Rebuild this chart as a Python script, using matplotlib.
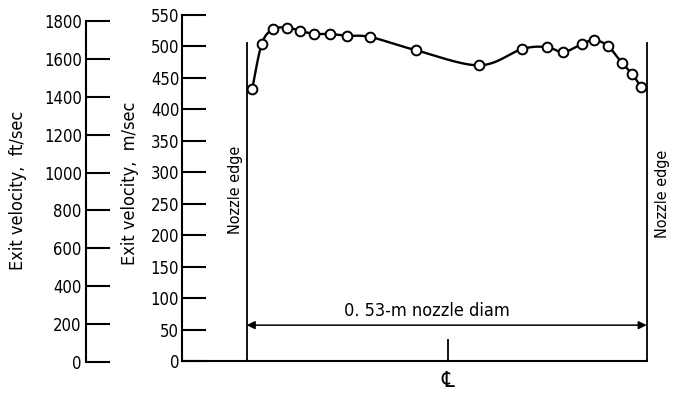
import numpy as np
import matplotlib
matplotlib.use('Agg')
import matplotlib.pyplot as plt

# radial position across the nozzle exit (m), centreline = 0
position = [-0.2576, -0.2451, -0.2306, -0.2112, -0.1944, -0.1758, -0.1546,
            -0.1321, -0.1012, -0.0407, 0.0432, 0.1002, 0.1329, 0.1545,
            0.1793, 0.1952, 0.2133, 0.2327, 0.2459, 0.2578]
# exit velocity (m/sec)
velocity = [433, 504, 527, 530, 525, 520, 520, 517, 515, 494, 470, 496,
            499, 491, 504, 510, 501, 473, 456, 435]

ms_ticks = list(range(0, 551, 50))
fts_ticks = list(range(0, 1801, 200))
nozzle_radius = 0.265

plt.rcParams['font.family'] = ['DejaVu Sans']
plt.rcParams['font.stretch'] = 'condensed'

W, H = 675, 395


def rect(l, t, r, b):
    return [l / W, 1 - b / H, (r - l) / W, (b - t) / H]


def catmull(xs, ys, n=30):
    # smooth curve through the measured points
    p = np.column_stack([xs, ys])
    p = np.vstack([p[0], p, p[-1]])
    out = []
    for i in range(1, len(p) - 2):
        p0, p1, p2, p3 = p[i - 1], p[i], p[i + 1], p[i + 2]
        t = np.linspace(0, 1, n)[:, None]
        seg = 0.5 * ((2 * p1) + (-p0 + p2) * t +
                     (2 * p0 - 5 * p1 + 4 * p2 - p3) * t ** 2 +
                     (-p0 + 3 * p1 - 3 * p2 + p3) * t ** 3)
        out.append(seg)
    out = np.vstack(out)
    return out[:, 0], out[:, 1]


fig = plt.figure(figsize=(6.75, 3.95), dpi=100)

# main axis in m/sec
ax = fig.add_axes(rect(182, 15, 646.7, 361))
ax.set_ylim(0, 550)
ax.set_xlim(nozzle_radius - 464.7 / 400 * 2 * nozzle_radius, nozzle_radius)
for s in ['top', 'right']:
    ax.spines[s].set_visible(False)
for s in ['left', 'bottom']:
    ax.spines[s].set_linewidth(1.5)
ax.set_yticks(ms_ticks)
ax.set_xticks([])
ax.tick_params(axis='y', direction='in', length=17, width=1.5, pad=2,
               labelsize=12)
ax.patch.set_visible(False)

# nozzle edges
for xe in [-nozzle_radius, nozzle_radius]:
    ax.plot([xe, xe], [0, 505], color='black', lw=1.3, clip_on=False)

# profile
cx, cy = catmull(position, velocity)
ax.plot(cx, cy, color='black', lw=1.7, zorder=3)
ax.plot(position, velocity, 'o', ms=7, mfc='white', mec='black', mew=1.4,
        zorder=4)

# dimension arrow
ax.annotate('', xy=(-nozzle_radius, 57), xytext=(nozzle_radius, 57),
            arrowprops=dict(arrowstyle='<|-|>', color='black', lw=1.1,
                            shrinkA=0, shrinkB=0, mutation_scale=12))
ax.text(-0.026, 80, '0. 53-m nozzle diam', ha='center', va='center',
        fontsize=13)

# centreline
ax.plot([0.0017, 0.0017], [0, 33], color='black', lw=1.3)
ax.text(0.0017, -31, '\u2104', ha='center', va='center', fontsize=16,
        clip_on=False)

ax.text(-0.2805, 272, 'Nozzle edge', rotation=90, ha='center', va='center',
        fontsize=11.5)
ax.text(0.2857, 266, 'Nozzle edge', rotation=90, ha='center', va='center',
        fontsize=11.5)

# secondary scale in ft/sec
ax2 = fig.add_axes(rect(86, 21, 110, 362))
ax2.set_ylim(0, 1800)
for s in ['top', 'right', 'bottom']:
    ax2.spines[s].set_visible(False)
ax2.spines['left'].set_linewidth(1.5)
ax2.set_yticks(fts_ticks)
ax2.set_xticks([])
ax2.tick_params(axis='y', direction='in', length=17, width=1.5, pad=3,
                labelsize=12)
ax2.patch.set_visible(False)

fig.text(18 / W, 1 - 190 / H, 'Exit velocity,  ft/sec', rotation=90,
         ha='center', va='center', fontsize=13)
fig.text(130 / W, 1 - 183 / H, 'Exit velocity,  m/sec', rotation=90,
         ha='center', va='center', fontsize=13)

fig.savefig('out.png', dpi=100, facecolor='white')
